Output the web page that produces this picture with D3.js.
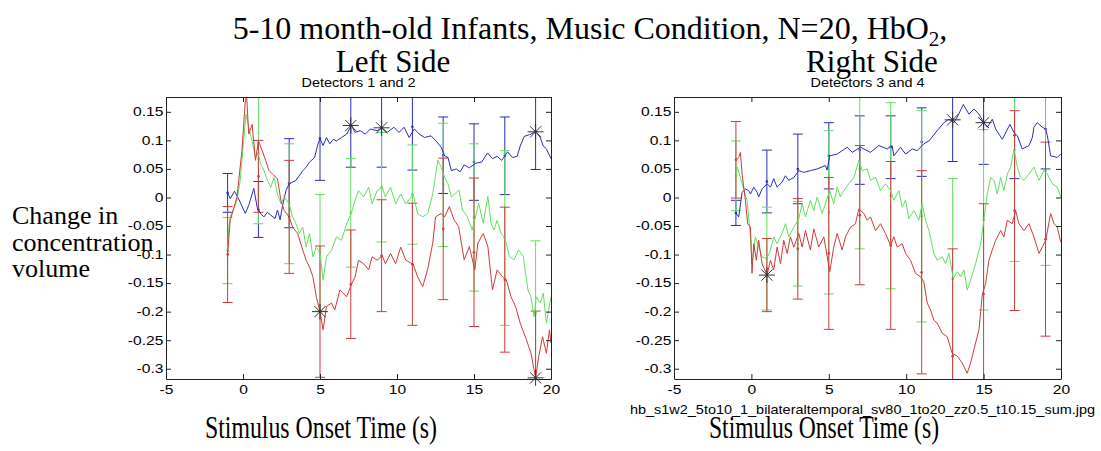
<!DOCTYPE html>
<html><head><meta charset="utf-8">
<script src="https://cdn.jsdelivr.net/npm/d3@7"></script>
<style>body{margin:0;background:#fff}svg{display:block}</style>
</head><body>
<svg id="chart" width="1101" height="451"></svg>
<script>
// ---------- DATA ----------
const errTimes = [-1, 1, 3, 5, 7, 9, 11, 13, 15, 17, 19];
const xTicks = [-5, 0, 5, 10, 15, 20];
const yTicks = [-0.3, -0.25, -0.2, -0.15, -0.1, -0.05, 0, 0.05, 0.1, 0.15];

// Left panel (Detectors 1 and 2) lines: [time, value]
const leftBlue = [[-1.0,0.008],[-0.83,-0.002],[-0.55,0.011],[-0.29,-0.002],[0.15,-0.028],[0.37,-0.014],[0.70,0.016],[0.92,-0.017],[1.14,-0.028],[1.36,-0.034],[1.58,-0.026],[1.80,-0.031],[2.08,-0.037],[2.24,-0.022],[2.41,-0.039],[2.57,-0.014],[2.79,0.012],[3.0,0.024],[3.44,0.030],[3.88,0.047],[4.10,0.053],[4.32,0.062],[4.65,0.070],[4.87,0.094],[5.0,0.103],[5.20,0.091],[5.42,0.105],[5.64,0.094],[5.86,0.102],[6.07,0.099],[6.40,0.105],[6.73,0.111],[7.04,0.126],[7.28,0.114],[7.61,0.117],[7.94,0.111],[8.27,0.120],[8.71,0.117],[9.04,0.122],[9.36,0.114],[9.80,0.123],[10.13,0.114],[10.46,0.123],[10.79,0.105],[11.12,0.120],[11.45,0.111],[11.78,0.105],[12.21,0.108],[12.54,0.099],[12.87,0.088],[13.09,0.073],[13.31,0.070],[13.53,0.047],[13.85,0.050],[14.1,0.045],[14.36,0.057],[14.7,0.052],[15.12,0.060],[15.5,0.062],[15.88,0.078],[16.2,0.068],[16.5,0.072],[16.8,0.065],[17.18,0.080],[17.5,0.070],[17.8,0.072],[18.0,0.090],[18.26,0.107],[18.6,0.110],[19.02,0.115],[19.3,0.105],[19.5,0.090],[19.7,0.085],[20.0,0.068]];
const leftGreen = [[-1.0,-0.093],[-0.94,-0.058],[-0.83,-0.034],[-0.61,-0.020],[-0.39,-0.005],[-0.18,0.030],[0.04,0.099],[0.20,0.146],[0.37,0.123],[0.59,0.099],[0.81,0.070],[1.0,0.077],[1.14,0.059],[1.36,0.047],[1.58,0.030],[1.80,0.018],[2.02,0.035],[2.24,0.006],[2.46,-0.011],[2.68,0.001],[3.0,-0.011],[3.22,-0.034],[3.44,-0.046],[3.66,-0.063],[3.88,-0.052],[4.10,-0.087],[4.32,-0.063],[4.54,-0.104],[4.76,-0.087],[5.0,-0.097],[5.20,-0.145],[5.42,-0.104],[5.75,-0.092],[6.07,-0.069],[6.40,-0.075],[6.73,-0.046],[7.04,-0.027],[7.28,-0.005],[7.50,0.012],[7.83,0.001],[8.16,0.018],[8.38,-0.011],[8.71,0.012],[9.04,0.018],[9.25,0.001],[9.58,0.018],[9.91,-0.011],[10.24,0.006],[10.57,-0.011],[11.05,0.005],[11.34,-0.028],[11.67,-0.034],[12.0,-0.028],[12.32,0.006],[12.65,0.065],[12.87,0.053],[13.09,0.035],[13.31,0.024],[13.53,0.001],[14.03,0.013],[14.25,-0.022],[14.55,-0.033],[14.88,-0.057],[15.1,-0.034],[15.3,-0.010],[15.6,-0.045],[15.9,0.002],[16.1,-0.045],[16.3,-0.057],[16.5,-0.040],[16.75,-0.063],[17.0,-0.071],[17.3,-0.103],[17.6,-0.109],[17.9,-0.092],[18.2,-0.103],[18.5,-0.162],[18.7,-0.174],[18.9,-0.209],[19.05,-0.174],[19.3,-0.185],[19.5,-0.168],[19.7,-0.220],[20.0,-0.174]];
const leftRed = [[-1.0,-0.100],[-0.83,-0.040],[-0.61,-0.020],[-0.39,0.001],[-0.07,0.082],[0.15,0.169],[0.24,0.176],[0.37,0.111],[0.59,0.128],[0.81,0.065],[1.0,0.099],[1.25,0.082],[1.47,0.065],[1.69,0.047],[1.91,0.041],[2.24,0.033],[2.46,-0.005],[2.68,-0.023],[3.0,-0.034],[3.22,-0.052],[3.55,-0.063],[3.88,-0.092],[4.10,-0.110],[4.32,-0.122],[4.54,-0.139],[4.76,-0.174],[5.0,-0.200],[5.20,-0.232],[5.42,-0.191],[5.75,-0.185],[5.96,-0.197],[6.29,-0.162],[6.73,-0.174],[7.04,-0.152],[7.28,-0.139],[7.50,-0.110],[7.83,-0.116],[8.16,-0.127],[8.38,-0.104],[8.71,-0.110],[9.04,-0.102],[9.25,-0.116],[9.58,-0.098],[9.91,-0.116],[10.24,-0.087],[10.57,-0.110],[11.05,-0.117],[11.34,-0.139],[11.67,-0.156],[12.0,-0.125],[12.32,-0.080],[12.5,-0.034],[12.87,-0.028],[13.09,-0.034],[13.4,-0.016],[13.7,-0.039],[14.0,-0.051],[14.36,-0.109],[14.7,-0.086],[15.05,-0.127],[15.25,-0.080],[15.6,-0.063],[15.9,-0.086],[16.2,-0.162],[16.5,-0.127],[16.85,-0.139],[17.1,-0.144],[17.4,-0.174],[17.7,-0.191],[18.0,-0.220],[18.4,-0.249],[18.7,-0.273],[19.0,-0.316],[19.2,-0.279],[19.45,-0.244],[19.7,-0.273],[19.9,-0.232],[20.0,-0.255]];

// Left panel error bars (mean, half-width) at errTimes
const leftBlueMean = [0.008, -0.021, 0.025, 0.103, 0.126, 0.122, 0.124, 0.074, 0.062, 0.073, 0.115];
const leftBlueErr  = [0.034, 0.049, 0.078, 0.073, 0.073, 0.069, 0.076, 0.067, 0.067, 0.068, 0.066];
const leftGreenMean = [-0.093, 0.077, -0.011, -0.097, -0.027, 0.018, 0.005, 0.022, -0.035, -0.071, -0.203];
const leftGreenErr  = [0.058, 0.123, 0.105, 0.102, 0.095, 0.096, 0.087, 0.108, 0.129, 0.153, 0.127];
const leftRedMean = [-0.100, 0.037, -0.034, -0.200, -0.152, -0.102, -0.117, -0.055, -0.096, -0.144, -0.316];
const leftRedErr  = [0.084, 0.063, 0.099, 0.115, 0.095, 0.098, 0.107, 0.124, 0.130, 0.127, 0.117];
const leftStars = [[5, -0.200], [7, 0.126], [9, 0.122], [19, 0.115], [19, -0.316]];

// Right panel (Detectors 3 and 4)
const rightBlue = [[-0.99,-0.028],[-0.82,-0.034],[-0.60,0.009],[-0.39,0.015],[-0.17,0.012],[-0.06,0.006],[0.15,0.018],[0.37,0.009],[0.47,0.001],[0.69,0.015],[1.01,0.024],[1.23,0.018],[1.44,0.033],[1.66,0.018],[1.98,0.027],[2.20,0.038],[2.41,0.030],[2.74,0.035],[3.06,0.047],[3.38,0.044],[3.81,0.047],[4.25,0.050],[4.78,0.056],[4.89,0.048],[5.06,0.073],[5.54,0.076],[6.19,0.088],[6.51,0.079],[7.05,0.088],[7.69,0.079],[8.23,0.091],[8.77,0.085],[9.09,0.091],[9.20,0.073],[9.63,0.088],[9.96,0.076],[10.39,0.085],[10.71,0.082],[11.14,0.094],[11.47,0.099],[12.0,0.117],[12.44,0.131],[12.76,0.137],[13.08,0.131],[13.34,0.143],[13.69,0.163],[14.05,0.146],[14.38,0.155],[14.70,0.146],[15.02,0.131],[15.24,0.123],[15.56,0.137],[15.78,0.120],[15.99,0.111],[16.21,0.102],[16.70,0.128],[16.96,0.114],[17.18,0.108],[17.50,0.085],[17.93,0.091],[18.15,0.105],[18.25,0.123],[18.47,0.131],[18.79,0.123],[19.01,0.120],[19.12,0.108],[19.33,0.073],[19.76,0.070],[19.98,0.076]];
const rightGreen = [[-0.99,0.038],[-0.9,0.053],[-0.60,0.024],[-0.28,-0.005],[-0.06,-0.069],[0.04,-0.116],[0.26,-0.069],[0.47,-0.087],[0.69,-0.104],[1.01,-0.107],[1.23,-0.092],[1.44,-0.069],[1.66,-0.081],[1.98,-0.063],[2.20,-0.046],[2.41,-0.069],[2.74,-0.052],[3.06,-0.037],[3.28,-0.011],[3.49,-0.034],[3.81,-0.005],[4.03,-0.023],[4.25,0.001],[4.57,-0.028],[4.78,-0.011],[5.06,0.012],[5.32,-0.011],[5.54,0.018],[5.75,0.001],[5.97,0.012],[6.29,0.024],[6.62,0.035],[6.94,0.065],[7.16,0.047],[7.48,0.050],[7.69,0.030],[8.02,0.035],[8.34,0.012],[8.66,0.024],[8.99,0.012],[9.20,-0.005],[9.53,0.012],[9.74,-0.017],[9.96,-0.005],[10.17,-0.037],[10.50,-0.023],[10.82,-0.040],[11.03,-0.011],[11.25,-0.040],[11.47,-0.058],[11.79,-0.098],[12.0,-0.110],[12.33,-0.104],[12.54,-0.116],[12.76,-0.098],[13.04,-0.142],[13.30,-0.130],[13.51,-0.139],[13.73,-0.127],[13.94,-0.162],[14.16,-0.145],[14.48,-0.116],[14.81,-0.081],[15.02,-0.039],[15.24,0.006],[15.45,0.035],[15.67,0.030],[15.88,0.006],[16.10,0.035],[16.31,0.012],[16.53,0.041],[16.75,0.053],[16.96,0.085],[17.18,0.053],[17.39,0.035],[17.61,0.030],[17.93,0.041],[18.25,0.053],[18.58,0.030],[18.90,0.047],[19.12,0.041],[19.44,0.024],[19.76,0.018],[19.98,0.001]];
const rightRed = [[-0.99,0.066],[-0.82,0.070],[-0.71,0.079],[-0.60,0.041],[-0.39,-0.005],[-0.24,-0.046],[-0.06,-0.052],[0.04,-0.133],[0.15,-0.081],[0.32,-0.110],[0.47,-0.075],[0.69,-0.116],[1.01,-0.136],[1.23,-0.110],[1.44,-0.127],[1.66,-0.087],[1.88,-0.116],[2.09,-0.075],[2.31,-0.098],[2.52,-0.069],[2.74,-0.087],[3.06,-0.063],[3.28,-0.087],[3.49,-0.058],[3.81,-0.092],[4.03,-0.055],[4.35,-0.087],[4.68,-0.069],[5.06,-0.130],[5.32,-0.087],[5.54,-0.063],[5.86,-0.092],[6.08,-0.069],[6.40,-0.052],[6.72,-0.046],[6.94,-0.020],[7.26,-0.028],[7.48,-0.040],[7.69,-0.034],[8.02,-0.058],[8.34,-0.046],[8.66,-0.063],[8.99,-0.084],[9.20,-0.069],[9.42,-0.087],[9.74,-0.081],[9.96,-0.098],[10.28,-0.110],[10.60,-0.133],[10.93,-0.139],[11.14,-0.148],[11.36,-0.185],[11.57,-0.197],[11.79,-0.215],[12.0,-0.220],[12.33,-0.238],[12.65,-0.244],[12.97,-0.273],[13.30,-0.278],[13.62,-0.290],[13.94,-0.308],[14.16,-0.290],[14.48,-0.255],[14.70,-0.232],[14.91,-0.171],[15.13,-0.151],[15.34,-0.110],[15.56,-0.092],[15.78,-0.075],[16.10,-0.058],[16.31,-0.069],[16.53,-0.040],[16.85,-0.046],[17.07,-0.023],[17.28,-0.046],[17.61,-0.058],[17.93,-0.046],[18.25,-0.069],[18.58,-0.098],[18.79,-0.087],[19.01,-0.075],[19.33,-0.028],[19.55,-0.046],[19.76,-0.052],[19.98,-0.078]];

const rightBlueMean = [-0.027, 0.028, 0.050, 0.073, 0.083, 0.088, 0.097, 0.136, 0.131, 0.109, 0.120];
const rightBlueErr  = [0.022, 0.055, 0.061, 0.058, 0.060, 0.055, 0.060, 0.073, 0.073, 0.076, 0.070];
const rightGreenMean = [0.038, -0.107, -0.081, -0.026, 0.050, 0.003, -0.033, -0.143, -0.039, 0.083, 0.047];
const rightGreenErr  = [0.061, 0.090, 0.074, 0.143, 0.140, 0.163, 0.185, 0.176, 0.158, 0.195, 0.166];
const rightRedMean = [0.066, -0.136, -0.090, -0.098, -0.031, -0.084, -0.131, -0.278, -0.169, -0.023, -0.073];
const rightRedErr  = [0.067, 0.064, 0.088, 0.133, 0.122, 0.147, 0.178, 0.188, 0.158, 0.175, 0.170];
const rightStars = [[1, -0.136], [13, 0.136], [15, 0.131]];

// ---------- DRAWING ----------
const svg = d3.select("#chart");
const colors = {blue: "#2b2bc0", green: "#5fe05f", red: "#d03a3a"};
const yDomain = [-0.318, 0.176];
const axTop = 97, axBottom = 379;
const sans = "Liberation Sans, Arial, sans-serif";
const serif = "Liberation Serif, Times New Roman, serif";

function fmt(d) { return String(+d.toFixed(2)); }

function panel(id, x0, x1, title, series, stars) {
  const x = d3.scaleLinear().domain([-5, 20]).range([x0, x1]);
  const y = d3.scaleLinear().domain(yDomain).range([axBottom, axTop]);
  const g = svg.append("g");
  g.append("clipPath").attr("id", id).append("rect")
    .attr("x", x0).attr("y", axTop).attr("width", x1 - x0).attr("height", axBottom - axTop);
  const plot = g.append("g").attr("clip-path", `url(#${id})`);
  const line = d3.line().x(d => x(d[0])).y(d => y(d[1]));

  series.forEach(s => {
    errTimes.forEach((t, i) => {
      const m = s.mean[i], e = s.err[i];
      const cx = x(t);
      plot.append("line").attr("x1", cx).attr("x2", cx).attr("y1", y(m - e)).attr("y2", y(m + e))
        .attr("stroke", s.color).attr("stroke-width", 1);
      [m - e, m + e].forEach(v => plot.append("line").attr("x1", cx - 5).attr("x2", cx + 5)
        .attr("y1", y(v)).attr("y2", y(v)).attr("stroke", s.color).attr("stroke-width", 1));
      plot.append("circle").attr("cx", cx).attr("cy", y(m)).attr("r", 1.3).attr("fill", s.color);
    });
  });
  series.forEach(s => {
    plot.append("path").datum(s.line).attr("d", line).attr("fill", "none")
      .attr("stroke", s.color).attr("stroke-width", 1).attr("stroke-linejoin", "round");
  });
  stars.forEach(p => {
    const cx = x(p[0]), cy = y(p[1]), r = 8;
    const path = `M${cx - r},${cy}L${cx + r},${cy}M${cx},${cy - r}L${cx},${cy + r}` +
      `M${cx - r * 0.7},${cy - r * 0.7}L${cx + r * 0.7},${cy + r * 0.7}M${cx - r * 0.7},${cy + r * 0.7}L${cx + r * 0.7},${cy - r * 0.7}`;
    g.append("path").attr("d", path).attr("stroke", "#333").attr("stroke-width", 1).attr("fill", "none");
  });

  g.append("g").attr("transform", `translate(0,${axBottom})`)
    .call(d3.axisBottom(x).tickValues(xTicks).tickSize(-5).tickSizeOuter(0).tickPadding(6).tickFormat(fmt));
  g.append("g").attr("transform", `translate(${x0},0)`)
    .call(d3.axisLeft(y).tickValues(yTicks).tickSize(-5).tickSizeOuter(0).tickPadding(2).tickFormat(fmt));
  g.append("g").attr("transform", `translate(0,${axTop})`)
    .call(d3.axisTop(x).tickValues(xTicks).tickSize(-5).tickSizeOuter(0).tickFormat(""));
  g.append("g").attr("transform", `translate(${x1},0)`)
    .call(d3.axisRight(y).tickValues(yTicks).tickSize(-5).tickSizeOuter(0).tickFormat(""));
  g.selectAll(".domain").attr("stroke", "#222");
  g.selectAll(".tick line").attr("stroke", "#222");
  g.selectAll(".tick text").attr("font-family", sans).attr("font-size", 12).attr("fill", "#000")
    .attr("transform", "scale(1.3,1)");
  g.append("text").attr("x", (x0 + x1) / 2).attr("y", 87).attr("text-anchor", "middle")
    .attr("font-family", sans).attr("font-size", 12).attr("textLength", 114)
    .attr("lengthAdjust", "spacingAndGlyphs").text(title);
}

panel("clipL", 166, 551, "Detectors 1 and 2", [
  {color: colors.blue, line: leftBlue, mean: leftBlueMean, err: leftBlueErr},
  {color: colors.green, line: leftGreen, mean: leftGreenMean, err: leftGreenErr},
  {color: colors.red, line: leftRed, mean: leftRedMean, err: leftRedErr}
], leftStars);

panel("clipR", 674, 1061, "Detectors 3 and 4", [
  {color: colors.blue, line: rightBlue, mean: rightBlueMean, err: rightBlueErr},
  {color: colors.green, line: rightGreen, mean: rightGreenMean, err: rightGreenErr},
  {color: colors.red, line: rightRed, mean: rightRedMean, err: rightRedErr}
], rightStars);

// ---------- TEXT ----------
const t1 = svg.append("text").attr("x", 590).attr("y", 39).attr("text-anchor", "middle")
  .attr("font-family", serif).attr("font-size", 32);
t1.append("tspan").text("5-10 month-old Infants, Music Condition, N=20, HbO");
t1.append("tspan").attr("font-size", 21).attr("dy", 7).text("2");
t1.append("tspan").attr("dy", -7).text(",");
svg.append("text").attr("x", 393).attr("y", 72).attr("text-anchor", "middle")
  .attr("font-family", serif).attr("font-size", 31).text("Left Side");
svg.append("text").attr("x", 872).attr("y", 72).attr("text-anchor", "middle")
  .attr("font-family", serif).attr("font-size", 31).text("Right Side");
["Change in", "concentration", "volume"].forEach((s, i) =>
  svg.append("text").attr("x", 12).attr("y", 224 + i * 26.5).attr("font-family", serif)
    .attr("font-size", 26).text(s));
[[205, 437], [709, 939]].forEach(([a, b]) =>
  svg.append("text").attr("x", a).attr("y", 438).attr("font-family", serif).attr("font-size", 31)
    .attr("textLength", b - a).attr("lengthAdjust", "spacingAndGlyphs").text("Stimulus Onset Time (s)"));
svg.append("text").attr("x", 630).attr("y", 414)
  .attr("font-family", sans).attr("font-size", 13).attr("textLength", 465)
  .attr("lengthAdjust", "spacingAndGlyphs")
  .text("hb_s1w2_5to10_1_bilateraltemporal_sv80_1to20_zz0.5_t10.15_sum.jpg");
</script>
</body></html>
